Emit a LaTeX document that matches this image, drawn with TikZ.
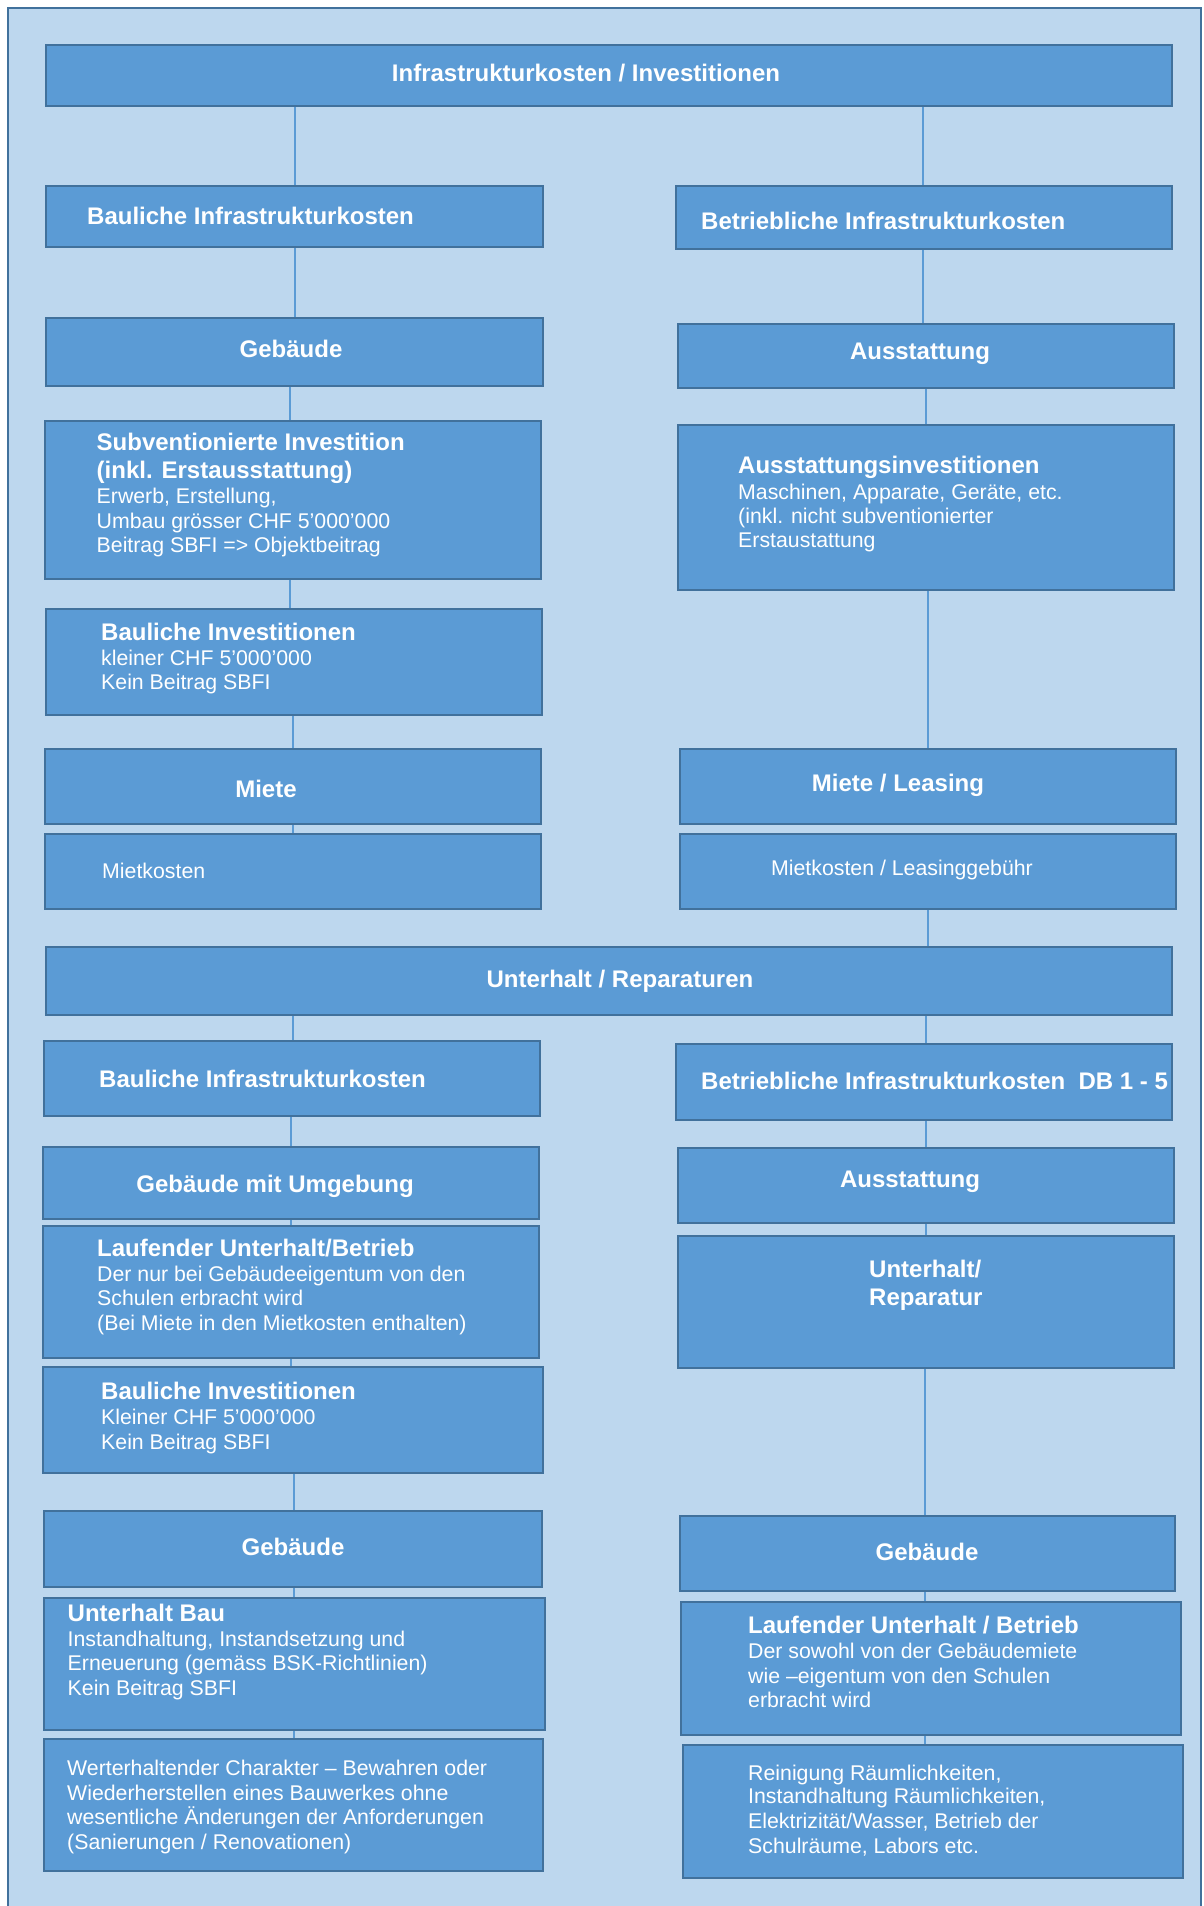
\documentclass[tikz,border=0pt]{standalone}
\usepackage{fontspec}
\setmainfont{Liberation Sans}
\definecolor{boxfill}{HTML}{5B9BD5}
\definecolor{boxline}{HTML}{41719C}
\definecolor{panel}{HTML}{BDD7EE}
\pgfdeclarelayer{back}
\pgfdeclarelayer{conn}
\pgfsetlayers{back,conn,main}
\begin{document}
\begin{tikzpicture}[x=1pt,y=-1pt,
  box/.style={rectangle,draw=boxline,fill=boxfill,line width=2.5pt,inner sep=0pt,outer sep=0pt,anchor=north west},
  tb/.style={text=white,inner sep=0pt,font=\bfseries\fontsize{24}{28}\selectfont},
  tn/.style={text=white,inner sep=0pt,font=\fontsize{21.3}{25}\selectfont},
  cn/.style={draw=boxfill,line width=2pt}]
\useasboundingbox (0,0) rectangle (1203,1906);
\begin{pgfonlayer}{back}
\fill[white] (0,0) rectangle (1203,1906);
\filldraw[fill=panel,draw=boxline,line width=2pt] (8,8) rectangle (1201,1930);
\end{pgfonlayer}

% boxes
\node[box,minimum width=1126pt,minimum height=61pt] (top) at (46,45) {};
\node[box,minimum width=497pt,minimum height=61pt] (bauL1) at (46,186) {};
\node[box,minimum width=496pt,minimum height=63pt] (betR1) at (676,186) {};
\node[box,minimum width=497pt,minimum height=68pt] (gebL1) at (46,318) {};
\node[box,minimum width=496pt,minimum height=64pt] (ausR1) at (678,324) {};
\node[box,minimum width=496pt,minimum height=158pt] (subv) at (45,421) {};
\node[box,minimum width=496pt,minimum height=165pt] (ausinv) at (678,425) {};
\node[box,minimum width=496pt,minimum height=106pt] (bauinv1) at (46,609) {};
\node[box,minimum width=496pt,minimum height=75pt] (mieteL) at (45,749) {};
\node[box,minimum width=496pt,minimum height=75pt] (mietk) at (45,834) {};
\node[box,minimum width=496pt,minimum height=75pt] (mieteR) at (680,749) {};
\node[box,minimum width=496pt,minimum height=75pt] (mietkR) at (680,834) {};
\node[box,minimum width=1126pt,minimum height=68pt] (unter) at (46,947) {};
\node[box,minimum width=496pt,minimum height=75pt] (bauL2) at (44,1041) {};
\node[box,minimum width=496pt,minimum height=76pt] (betR2) at (676,1044) {};
\node[box,minimum width=496pt,minimum height=72pt] (gebUm) at (43,1147) {};
\node[box,minimum width=496pt,minimum height=75pt] (ausR2) at (678,1148) {};
\node[box,minimum width=496pt,minimum height=132pt] (lauf1) at (43,1226) {};
\node[box,minimum width=496pt,minimum height=132pt] (unrep) at (678,1236) {};
\node[box,minimum width=500pt,minimum height=106pt] (bauinv2) at (43,1367) {};
\node[box,minimum width=498pt,minimum height=76pt] (gebL3) at (44,1511) {};
\node[box,minimum width=501pt,minimum height=132pt] (unbau) at (44,1598) {};
\node[box,minimum width=499pt,minimum height=132pt] (wert) at (44,1739) {};
\node[box,minimum width=495pt,minimum height=75pt] (gebR3) at (680,1516) {};
\node[box,minimum width=500pt,minimum height=133pt] (laufR) at (681,1602) {};
\node[box,minimum width=500pt,minimum height=133pt] (rein) at (683,1745) {};

% connector x positions
\coordinate (c1) at (295,0);
\coordinate (c2) at (923,0);
\coordinate (c3) at (290,0);
\coordinate (c4) at (926,0);
\coordinate (c5) at (293,0);
\coordinate (c6) at (928,0);
\coordinate (c8) at (291,0);
\coordinate (c9) at (294,0);
\coordinate (c10) at (925,0);

\begin{pgfonlayer}{conn}
\draw[cn] (top.south -| c1) -- (bauL1.north -| c1);
\draw[cn] (bauL1.south -| c1) -- (gebL1.north -| c1);
\draw[cn] (top.south -| c2) -- (betR1.north -| c2);
\draw[cn] (betR1.south -| c2) -- (ausR1.north -| c2);
\draw[cn] (gebL1.south -| c3) -- (subv.north -| c3);
\draw[cn] (subv.south -| c3) -- (bauinv1.north -| c3);
\draw[cn] (ausR1.south -| c4) -- (ausinv.north -| c4);
\draw[cn] (bauinv1.south -| c5) -- (mieteL.north -| c5);
\draw[cn] (mieteL.south -| c5) -- (mietk.north -| c5);
\draw[cn] (ausinv.south -| c6) -- (mieteR.north -| c6);
\draw[cn] (mietkR.south -| c6) -- (unter.north -| c6);
\draw[cn] (unter.south -| c5) -- (bauL2.north -| c5);
\draw[cn] (unter.south -| c4) -- (betR2.north -| c4);
\draw[cn] (betR2.south -| c4) -- (ausR2.north -| c4);
\draw[cn] (ausR2.south -| c4) -- (unrep.north -| c4);
\draw[cn] (bauL2.south -| c8) -- (gebUm.north -| c8);
\draw[cn] (gebUm.south -| c8) -- (lauf1.north -| c8);
\draw[cn] (lauf1.south -| c8) -- (bauinv2.north -| c8);
\draw[cn] (bauinv2.south -| c9) -- (gebL3.north -| c9);
\draw[cn] (gebL3.south -| c9) -- (unbau.north -| c9);
\draw[cn] (unbau.south -| c9) -- (wert.north -| c9);
\draw[cn] (unrep.south -| c10) -- (gebR3.north -| c10);
\draw[cn] (gebR3.south -| c10) -- (laufR.north -| c10);
\draw[cn] (laufR.south -| c10) -- (rein.north -| c10);
\end{pgfonlayer}

% texts
\node[tb,anchor=base] (t1) at (586,81) {Infrastrukturkosten / Investitionen};
\node[tb,anchor=base west] (t2) at (87,224.5) {Bauliche Infrastrukturkosten};
\node[tb,anchor=base west] (t3) at (701,229.5) {Betriebliche Infrastrukturkosten};
\node[tb,anchor=base] (t4) at (291,357.5) {Gebäude};
\node[tb,anchor=base] (t5) at (920,359.5) {Ausstattung};

\node[tb,anchor=base west] (t6a) at (96.5,450.5) {Subventionierte Investition};
\node[tb,anchor=base west] (t6b) at (96.5,478.5) {(inkl. Erstausstattung)};
\node[tn,anchor=base west] (t6c) at (96.5,503.5) {Erwerb, Erstellung,};
\node[tn,anchor=base west] (t6d) at (96.5,528.5) {Umbau grösser CHF 5’000’000};
\node[tn,anchor=base west] (t6e) at (96.5,552.5) {Beitrag SBFI => Objektbeitrag};

\node[tb,anchor=base west] (t7a) at (738,473.5) {Ausstattungsinvestitionen};
\node[tn,anchor=base west] (t7b) at (738,499) {Maschinen, Apparate, Geräte, etc.};
\node[tn,anchor=base west] (t7c) at (738,523.5) {(inkl. nicht subventionierter};
\node[tn,anchor=base west] (t7d) at (738,547.5) {Erstaustattung};

\node[tb,anchor=base west] (t8a) at (101,640.5) {Bauliche Investitionen};
\node[tn,anchor=base west] (t8b) at (101,665.5) {kleiner CHF 5’000'000};
\node[tn,anchor=base west] (t8c) at (101,689.5) {Kein Beitrag SBFI};

\node[tb,anchor=base] (t9) at (266,797.5) {Miete};
\node[tn,anchor=base west] (t10) at (102,878.5) {Mietkosten};
\node[tb,anchor=base] (t11) at (898,791.5) {Miete / Leasing};
\node[tn,anchor=base] (t12) at (902,875.5) {Mietkosten / Leasinggebühr};

\node[tb,anchor=base] (t13) at (620,987.5) {Unterhalt / Reparaturen};
\node[tb,anchor=base west] (t14) at (99,1087.5) {Bauliche Infrastrukturkosten};
\node[tb,anchor=base west] (t15) at (701,1089.5) {Betriebliche Infrastrukturkosten\ \ DB 1 - 5};
\node[tb,anchor=base] (t16) at (275,1192.5) {Gebäude mit Umgebung};
\node[tb,anchor=base] (t17) at (910,1187.5) {Ausstattung};

\node[tb,anchor=base west] (t18a) at (97,1256.5) {Laufender Unterhalt/Betrieb};
\node[tn,anchor=base west] (t18b) at (97,1281.5) {Der nur bei Gebäudeeigentum von den};
\node[tn,anchor=base west] (t18c) at (97,1305.5) {Schulen erbracht wird};
\node[tn,anchor=base west] (t18d) at (97,1330.5) {(Bei Miete in den Mietkosten enthalten)};

\node[tb,anchor=base west] (t19a) at (869,1277.5) {Unterhalt/};
\node[tb,anchor=base west] (t19b) at (869,1305.5) {Reparatur};

\node[tb,anchor=base west] (t20a) at (101,1399.5) {Bauliche Investitionen};
\node[tn,anchor=base west] (t20b) at (101,1424.5) {Kleiner CHF 5’000’000};
\node[tn,anchor=base west] (t20c) at (101,1449.5) {Kein Beitrag SBFI};

\node[tb,anchor=base] (t21) at (293,1555.5) {Gebäude};

\node[tb,anchor=base west] (t22a) at (67.5,1621.5) {Unterhalt Bau};
\node[tn,anchor=base west] (t22b) at (67.5,1646.5) {Instandhaltung, Instandsetzung und};
\node[tn,anchor=base west] (t22c) at (67.5,1670.5) {Erneuerung (gemäss BSK-Richtlinien)};
\node[tn,anchor=base west] (t22d) at (67.5,1695.5) {Kein Beitrag SBFI};

\node[tn,anchor=base west] (t23a) at (67,1775.5) {Werterhaltender Charakter – Bewahren oder};
\node[tn,anchor=base west] (t23b) at (67,1800.5) {Wiederherstellen eines Bauwerkes ohne};
\node[tn,anchor=base west] (t23c) at (67,1824.5) {wesentliche Änderungen der Anforderungen};
\node[tn,anchor=base west] (t23d) at (67,1849.5) {(Sanierungen / Renovationen)};

\node[tb,anchor=base] (t24) at (927,1560.5) {Gebäude};

\node[tb,anchor=base west] (t25a) at (748,1633.5) {Laufender Unterhalt / Betrieb};
\node[tn,anchor=base west] (t25b) at (748,1658.5) {Der sowohl von der Gebäudemiete};
\node[tn,anchor=base west] (t25c) at (748,1683.5) {wie –eigentum von den Schulen};
\node[tn,anchor=base west] (t25d) at (748,1707.5) {erbracht wird};

\node[tn,anchor=base west] (t26a) at (748,1780.5) {Reinigung Räumlichkeiten,};
\node[tn,anchor=base west] (t26b) at (748,1803.5) {Instandhaltung Räumlichkeiten,};
\node[tn,anchor=base west] (t26c) at (748,1828.5) {Elektrizität/Wasser, Betrieb der};
\node[tn,anchor=base west] (t26d) at (748,1853.5) {Schulräume, Labors etc.};
\end{tikzpicture}
\end{document}
